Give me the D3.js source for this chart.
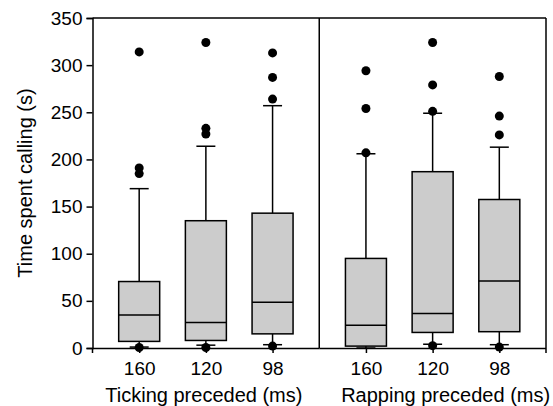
<!DOCTYPE html>
<html>
<head>
<meta charset="utf-8">
<script src="https://cdn.jsdelivr.net/npm/d3@7"></script>
<style>
  body { margin: 0; background: #fff; }
  svg text { font-family: "Liberation Sans", Arial, sans-serif; fill: #000; }
</style>
</head>
<body>
<svg width="553" height="406"></svg>
<script>
var svg = d3.select("svg");

// data
var groups = ["Ticking preceded (ms)", "Rapping preceded (ms)"];
var categories = ["160", "120", "98"];
var whiskerLow = [[1, 3, 3.5], [0, 4, 3.5]];
var q1 = [[7, 8, 15], [2, 16.5, 17.3]];
var median = [[35, 27, 48.5], [24, 36.5, 71]];
var q3 = [[70.5, 135, 143], [95, 187, 157.5]];
var whiskerHigh = [[169, 214, 257], [206, 249, 213]];
var outliers = [
  [[314, 191, 185, 0.5], [324, 233, 227, 0.5], [313, 287, 264, 2]],
  [[294, 254, 207], [324, 279, 251, 2.5], [288, 246, 226, 1]]
];
var yTicks = [0, 50, 100, 150, 200, 250, 300, 350];

var plotL = 92.5, plotR = 546, plotT = 18, plotB = 348;
var panelW = (plotR - plotL) / groups.length;

var y = d3.scaleLinear().domain([0, 350]).range([plotB, plotT]);

var boxW = 41, capW = 19, r = 4.5;

// y axis
var yAxis = svg.append("g")
  .attr("transform", "translate(" + plotL + ",0)")
  .call(d3.axisLeft(y).tickValues(yTicks).tickSize(6).tickPadding(4));
yAxis.selectAll("path, line").attr("stroke", "#000").attr("stroke-width", 1.5);
yAxis.selectAll("text").style("font-size", "19px");
svg.append("line")
  .attr("x1", plotL).attr("x2", plotL)
  .attr("y1", plotB).attr("y2", plotB + 5)
  .attr("stroke", "#000").attr("stroke-width", 1.5);

svg.append("text")
  .attr("transform", "translate(25," + ((plotT + plotB) / 2) + ") rotate(-90)")
  .attr("text-anchor", "middle")
  .attr("dy", "0.35em")
  .style("font-size", "20px")
  .text("Time spent calling (s)");

// frame: top and right
svg.append("line")
  .attr("x1", plotL).attr("x2", plotR).attr("y1", plotT).attr("y2", plotT)
  .attr("stroke", "#000").attr("stroke-width", 1.5);
svg.append("line")
  .attr("x1", plotR).attr("x2", plotR).attr("y1", plotT).attr("y2", plotB + 5)
  .attr("stroke", "#000").attr("stroke-width", 1.5);

var titleShift = [-2, 13];

groups.forEach(function(grp, gi) {
  var x0 = plotL + gi * panelW;
  var x = d3.scalePoint().domain(categories).range([x0, x0 + panelW]).padding(0.7);

  // divider between panels
  if (gi > 0) {
    svg.append("line")
      .attr("x1", x0).attr("x2", x0).attr("y1", plotT).attr("y2", plotB)
      .attr("stroke", "#000").attr("stroke-width", 1.5);
  }

  var xAxis = svg.append("g")
    .attr("transform", "translate(0," + plotB + ")")
    .call(d3.axisBottom(x).tickSizeInner(5).tickSizeOuter(0).tickPadding(8.5));
  xAxis.select(".domain").attr("d", "M" + x0 + ",0.5H" + (x0 + panelW));
  xAxis.selectAll("path, line").attr("stroke", "#000").attr("stroke-width", 1.5);
  xAxis.selectAll("text").style("font-size", "19px");

  svg.append("text")
    .attr("x", x0 + panelW / 2 + titleShift[gi])
    .attr("y", 402)
    .attr("text-anchor", "middle")
    .style("font-size", "20px")
    .text(grp);

  var g = svg.append("g");

  categories.forEach(function(c, i) {
    var cx = x(c);
    // whiskers
    g.append("line")
      .attr("x1", cx).attr("x2", cx)
      .attr("y1", y(whiskerHigh[gi][i])).attr("y2", y(q3[gi][i]))
      .attr("stroke", "#000").attr("stroke-width", 1.5);
    g.append("line")
      .attr("x1", cx).attr("x2", cx)
      .attr("y1", y(q1[gi][i])).attr("y2", y(whiskerLow[gi][i]))
      .attr("stroke", "#000").attr("stroke-width", 1.5);
    [whiskerHigh[gi][i], whiskerLow[gi][i]].forEach(function(v) {
      g.append("line")
        .attr("x1", cx - capW / 2).attr("x2", cx + capW / 2)
        .attr("y1", y(v)).attr("y2", y(v))
        .attr("stroke", "#000").attr("stroke-width", 1.5);
    });
    // box
    g.append("rect")
      .attr("x", cx - boxW / 2)
      .attr("y", y(q3[gi][i]))
      .attr("width", boxW)
      .attr("height", y(q1[gi][i]) - y(q3[gi][i]))
      .attr("fill", "#cccccc")
      .attr("stroke", "#000").attr("stroke-width", 1.5);
    g.append("line")
      .attr("x1", cx - boxW / 2).attr("x2", cx + boxW / 2)
      .attr("y1", y(median[gi][i])).attr("y2", y(median[gi][i]))
      .attr("stroke", "#000").attr("stroke-width", 1.5);
    // outliers
    g.selectAll(null)
      .data(outliers[gi][i])
      .enter().append("circle")
      .attr("cx", cx)
      .attr("cy", function(d) { return y(d); })
      .attr("r", r)
      .attr("fill", "#000");
  });
});
</script>
</body>
</html>
